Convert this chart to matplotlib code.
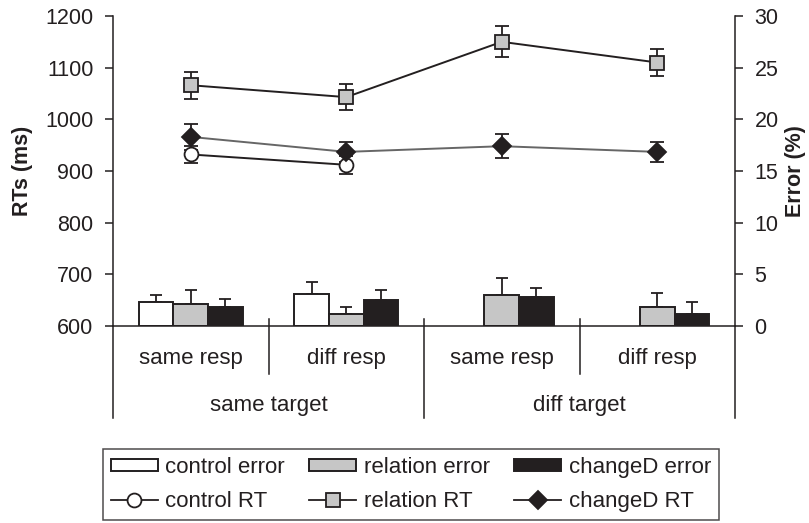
import numpy as np
import matplotlib
matplotlib.use('Agg')
import matplotlib.pyplot as plt
from matplotlib.lines import Line2D
from matplotlib.patches import Patch

plt.rcParams['font.family'] = ['Liberation Sans', 'DejaVu Sans']

# Data
conditions = ['same resp', 'diff resp', 'same resp', 'diff resp']
targets = ['same target', 'diff target']

# RTs (ms), left axis
control_rt = [932, 912, np.nan, np.nan]
control_rt_err = [16, 17, np.nan, np.nan]
relation_rt = [1066, 1043, 1150, 1110]
relation_rt_err = [26, 25, 30, 27]
changed_rt = [966, 937, 948, 937]
changed_rt_err = [25, 20, 23, 20]

# Error (%), right axis
control_err = [2.3, 3.1, np.nan, np.nan]
control_err_se = [0.7, 1.2, np.nan, np.nan]
relation_err = [2.15, 1.15, 3.0, 1.85]
relation_err_se = [1.35, 0.7, 1.65, 1.35]
changed_err = [1.85, 2.5, 2.85, 1.2]
changed_err_se = [0.8, 1.0, 0.8, 1.1]

ink = '#231f20'
x = np.arange(len(conditions))

fig = plt.figure(figsize=(8.09, 5.23), dpi=100)
ax = fig.add_axes([113 / 809, 1 - 326 / 523, 622 / 809, 310 / 523])
ax2 = ax.twinx()
ax.set_zorder(2)
ax2.set_zorder(1)
ax.patch.set_visible(False)

ax.set_xlim(-0.5, 3.5)
ax.set_ylim(600, 1200)
ax2.set_ylim(0, 30)

# bars (error rates) on the right axis
w = 0.222
bar_series = [
    (control_err, control_err_se, 'white'),
    (relation_err, relation_err_se, '#c6c6c6'),
    (changed_err, changed_err_se, ink),
]
for j, (vals, se, col) in enumerate(bar_series):
    vals = np.array(vals, dtype=float)
    se = np.array(se, dtype=float)
    ok = np.isfinite(vals)
    xs = x[ok] + (j - 1) * w
    ax2.errorbar(xs, vals[ok], yerr=[np.zeros(ok.sum()), se[ok]], fmt='none',
                 ecolor=ink, elinewidth=1.3, capsize=4.5, capthick=1.3, zorder=1)
    ax2.bar(xs, vals[ok], width=w, color=col, edgecolor=ink, linewidth=1.4, zorder=2)

# lines (RTs) on the left axis
line_series = [
    (control_rt, control_rt_err, 'o', 'white', ink, 10),
    (relation_rt, relation_rt_err, 's', '#c6c6c6', ink, 9.5),
    (changed_rt, changed_rt_err, 'D', ink, '#666666', 9),
]
for vals, se, mk, fc, lc, ms in line_series:
    ax.errorbar(x, vals, yerr=se, fmt='none', ecolor=ink, elinewidth=1.3,
                capsize=5, capthick=1.3, zorder=3)
    ax.plot(x, vals, color=lc, linewidth=1.4, zorder=4)
    ax.plot(x, vals, linestyle='none', marker=mk, markersize=ms,
            markerfacecolor=fc, markeredgecolor=ink, markeredgewidth=1.3, zorder=5)

# spines and ticks
for a in (ax, ax2):
    a.spines['top'].set_visible(False)
    for s in a.spines.values():
        s.set_linewidth(1.1)
        s.set_color(ink)
ax.spines['right'].set_visible(False)
ax2.spines['left'].set_visible(False)
ax2.spines['bottom'].set_visible(False)

ax.set_yticks(np.arange(600, 1201, 100))
ax2.set_yticks(np.arange(0, 31, 5))
ax.tick_params(axis='y', direction='out', length=6, width=1.1, color=ink,
               labelsize=15.5, labelcolor=ink, pad=8)
ax2.tick_params(axis='y', direction='out', length=6, width=1.1, color=ink,
                labelsize=15.5, labelcolor=ink, pad=8)
ax.tick_params(axis='x', bottom=False, labelbottom=False)
ax2.tick_params(axis='x', bottom=False, labelbottom=False)

ax.set_ylabel('RTs (ms)', fontsize=15.5, fontweight='bold', color=ink)
ax.yaxis.set_label_coords(-0.128, 0.5)
ax2.set_ylabel('Error (%)', fontsize=15.5, fontweight='bold', color=ink)
ax2.yaxis.set_label_coords(1.08, 0.5)

# multi-level category axis
tr = ax.get_xaxis_transform()
y_bot = -0.297
for xb in [-0.5, 3.5]:
    ax.add_line(Line2D([xb, xb], [0, y_bot], transform=tr, color=ink,
                       linewidth=1.1, clip_on=False))
for xb in [0.5, 2.5]:
    ax.add_line(Line2D([xb, xb], [0.023, -0.155], transform=tr, color=ink,
                       linewidth=1.1, clip_on=False))
ax.add_line(Line2D([1.5, 1.5], [0.023, y_bot], transform=tr, color=ink,
                   linewidth=1.1, clip_on=False))

for xi, lab in zip(x, conditions):
    ax.text(xi, -0.106, lab, transform=tr, ha='center', va='center',
            fontsize=16, color=ink)
for k, lab in enumerate(targets):
    ax.text(2 * k + 0.5, -0.255, lab, transform=tr, ha='center', va='center',
            fontsize=16, color=ink)

# legend
handles = [
    Patch(facecolor='white', edgecolor=ink, linewidth=1.4, label='control error'),
    Line2D([], [], color=ink, marker='o', markersize=10, markerfacecolor='white',
           markeredgecolor=ink, markeredgewidth=1.3, linewidth=1.3, label='control RT'),
    Patch(facecolor='#c6c6c6', edgecolor=ink, linewidth=1.4, label='relation error'),
    Line2D([], [], color=ink, marker='s', markersize=9.5, markerfacecolor='#c6c6c6',
           markeredgecolor=ink, markeredgewidth=1.3, linewidth=1.3, label='relation RT'),
    Patch(facecolor=ink, edgecolor=ink, linewidth=1.4, label='changeD error'),
    Line2D([], [], color=ink, marker='D', markersize=9, markerfacecolor=ink,
           markeredgecolor=ink, markeredgewidth=1.3, linewidth=1.3, label='changeD RT'),
]
leg = fig.legend(handles=handles, ncol=3, loc='center',
                 bbox_to_anchor=(411 / 809, 1 - 484.5 / 523),
                 fontsize=16, frameon=True, fancybox=False, shadow=False,
                 handlelength=2.1, handleheight=0.45, handletextpad=0.35,
                 columnspacing=1.1, labelspacing=0.6, borderpad=0.35,
                 borderaxespad=0)
leg.get_frame().set_edgecolor(ink)
leg.get_frame().set_linewidth(1.1)
for t in leg.get_texts():
    t.set_color(ink)

plt.savefig('out.png', dpi=100)
